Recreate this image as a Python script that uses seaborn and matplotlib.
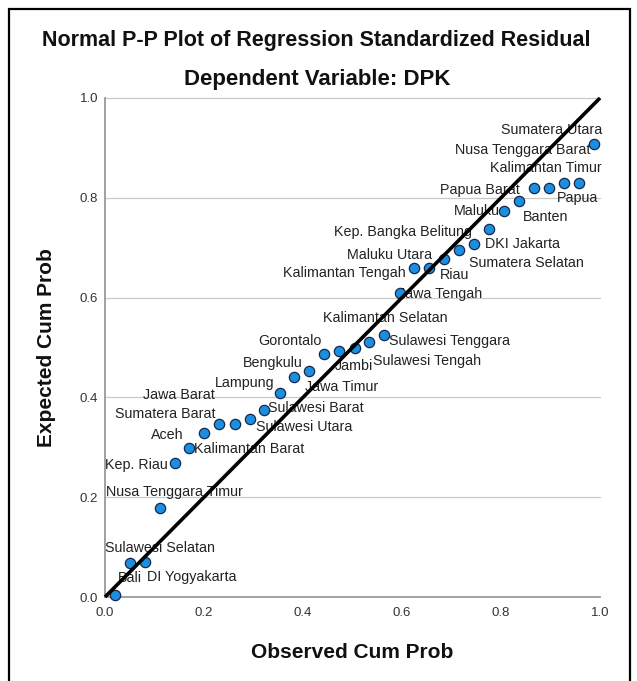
import matplotlib
matplotlib.use("Agg")
import matplotlib.pyplot as plt
from matplotlib.patches import Rectangle
import pandas as pd
import seaborn as sns

# Provinces ordered by observed cumulative probability of the standardized residual
provinces = [
    "Bali", "Sulawesi Selatan", "DI Yogyakarta", "Nusa Tenggara Timur", "Kep. Riau",
    "Kalimantan Barat", "Aceh", "Sumatera Barat", "Jawa Barat", "Sulawesi Utara",
    "Sulawesi Barat", "Lampung", "Bengkulu", "Jawa Timur", "Gorontalo",
    "Jambi", "Kalimantan Selatan", "Sulawesi Tengah", "Sulawesi Tenggara", "Jawa Tengah",
    "Kalimantan Tengah", "Maluku Utara", "Riau", "Sumatera Selatan", "DKI Jakarta",
    "Kep. Bangka Belitung", "Maluku", "Banten", "Papua Barat", "Kalimantan Timur",
    "Sumatera Utara", "Papua", "Nusa Tenggara Barat",
]
observed_cum_prob = [
    0.020, 0.051, 0.081, 0.111, 0.141, 0.170, 0.201, 0.231, 0.262, 0.292,
    0.322, 0.354, 0.382, 0.413, 0.443, 0.473, 0.505, 0.534, 0.564, 0.596,
    0.625, 0.655, 0.685, 0.716, 0.746, 0.776, 0.806, 0.836, 0.867, 0.897,
    0.927, 0.958, 0.988,
]
expected_cum_prob = [
    0.005, 0.068, 0.071, 0.179, 0.268, 0.298, 0.328, 0.346, 0.347, 0.356,
    0.375, 0.409, 0.440, 0.453, 0.487, 0.492, 0.500, 0.511, 0.526, 0.610,
    0.660, 0.660, 0.677, 0.695, 0.707, 0.737, 0.774, 0.794, 0.820, 0.820,
    0.830, 0.830, 0.908,
]
reference_line = [0.0, 1.0]
tick_values = [0.0, 0.2, 0.4, 0.6, 0.8, 1.0]
tick_labels = ["0.0", "0.2", "0.4", "0.6", "0.8", "1.0"]

# Label placement: offset in pixels from each marker and horizontal alignment
label_offsets = [
    (3, 17, "left"), (-25, 15, "left"), (2, -15, "left"), (-54, 16, "left"), (-7, -2, "right"),
    (5, -1, "left"), (-21, -2, "right"), (-4, 10, "right"), (-20, 29, "right"), (6, -8, "left"),
    (4, 2, "left"), (-6, 10, "right"), (9, 14, "right"), (-4, -16, "left"), (-3, 13, "right"),
    (-4, -15, "left"), (-32, 29, "left"), (4, -19, "left"), (5, -6, "left"), (-2, -1, "left"),
    (-9, -5, "right"), (3, 13, "right"), (-4, -16, "left"), (10, -13, "left"), (11, 0, "left"),
    (-17, -3, "right"), (-4, 0, "right"), (4, -16, "left"), (-14, -2, "right"), (53, 20, "right"),
    (38, 53, "right"), (19, -15, "right"), (-4, -6, "right"),
]

sns.set_theme(style="white")
plt.rcParams["font.family"] = ["Liberation Sans", "DejaVu Sans"]

W, H = 637, 681
fig = plt.figure(figsize=(W / 100, H / 100), dpi=100)
fig.patch.set_facecolor("white")

# chart frame (open at the bottom edge of the image)
fig.add_artist(Rectangle((8.5 / W, -0.05), (630 - 8.5) / W, 1.05 - 9 / H,
                         transform=fig.transFigure, fill=False,
                         edgecolor="black", linewidth=1.6))

ax = fig.add_axes([105 / W, 1 - 597 / H, 495 / W, 499 / H])
ax.set_facecolor("white")

df = pd.DataFrame({"Province": provinces,
                   "Observed Cum Prob": observed_cum_prob,
                   "Expected Cum Prob": expected_cum_prob})

for yv in tick_values[1:]:
    ax.axhline(yv, color="#c9c9c9", linewidth=0.9, zorder=0)

for name, xv, yv, (dx, dy, ha) in zip(provinces, observed_cum_prob, expected_cum_prob, label_offsets):
    ax.annotate(name, (xv, yv), xytext=(dx, dy), textcoords="offset pixels",
                ha=ha, va="center", fontsize=10.3, color="#222222",
                zorder=2, annotation_clip=False)

sns.scatterplot(data=df, x="Observed Cum Prob", y="Expected Cum Prob", ax=ax,
                s=55, color="#1c8ee0", edgecolor="#14284a", linewidth=0.9,
                zorder=3, clip_on=False, legend=False)

sns.lineplot(x=reference_line, y=reference_line, ax=ax, color="black",
             linewidth=2.6, zorder=4, solid_capstyle="butt")
for line in ax.lines:
    line.set_clip_on(False)

ax.set_xlim(0, 1)
ax.set_ylim(0, 1)
ax.set_xticks(tick_values, tick_labels)
ax.set_yticks(tick_values, tick_labels)
ax.tick_params(axis="both", length=0, labelsize=9.5, labelcolor="#333333")
ax.tick_params(axis="x", pad=7)
ax.tick_params(axis="y", pad=5)

for side in ["top", "right"]:
    ax.spines[side].set_visible(False)
for side in ["left", "bottom"]:
    ax.spines[side].set_color("#9a9a9a")
    ax.spines[side].set_linewidth(1.3)

ax.set_xlabel("Observed Cum Prob", fontsize=15, fontweight="bold", color="#111111")
ax.set_ylabel("Expected Cum Prob", fontsize=15, fontweight="bold", color="#111111")
ax.xaxis.set_label_coords(0.5, -(653 - 597) / 499)
ax.xaxis.label.set_va("center")
ax.yaxis.set_label_coords(-(105 - 47) / 495, 0.5)
ax.yaxis.label.set_va("center")
ax.yaxis.label.set_ha("center")

fig.text(316.5 / W, 1 - 40.7 / H, "Normal P-P Plot of Regression Standardized Residual",
         ha="center", va="center", fontsize=15.5, fontweight="bold", color="#111111")
fig.text(317.5 / W, 1 - 80 / H, "Dependent Variable: DPK",
         ha="center", va="center", fontsize=16, fontweight="bold", color="#111111")

fig.savefig("out.png", dpi=100, facecolor="white")
